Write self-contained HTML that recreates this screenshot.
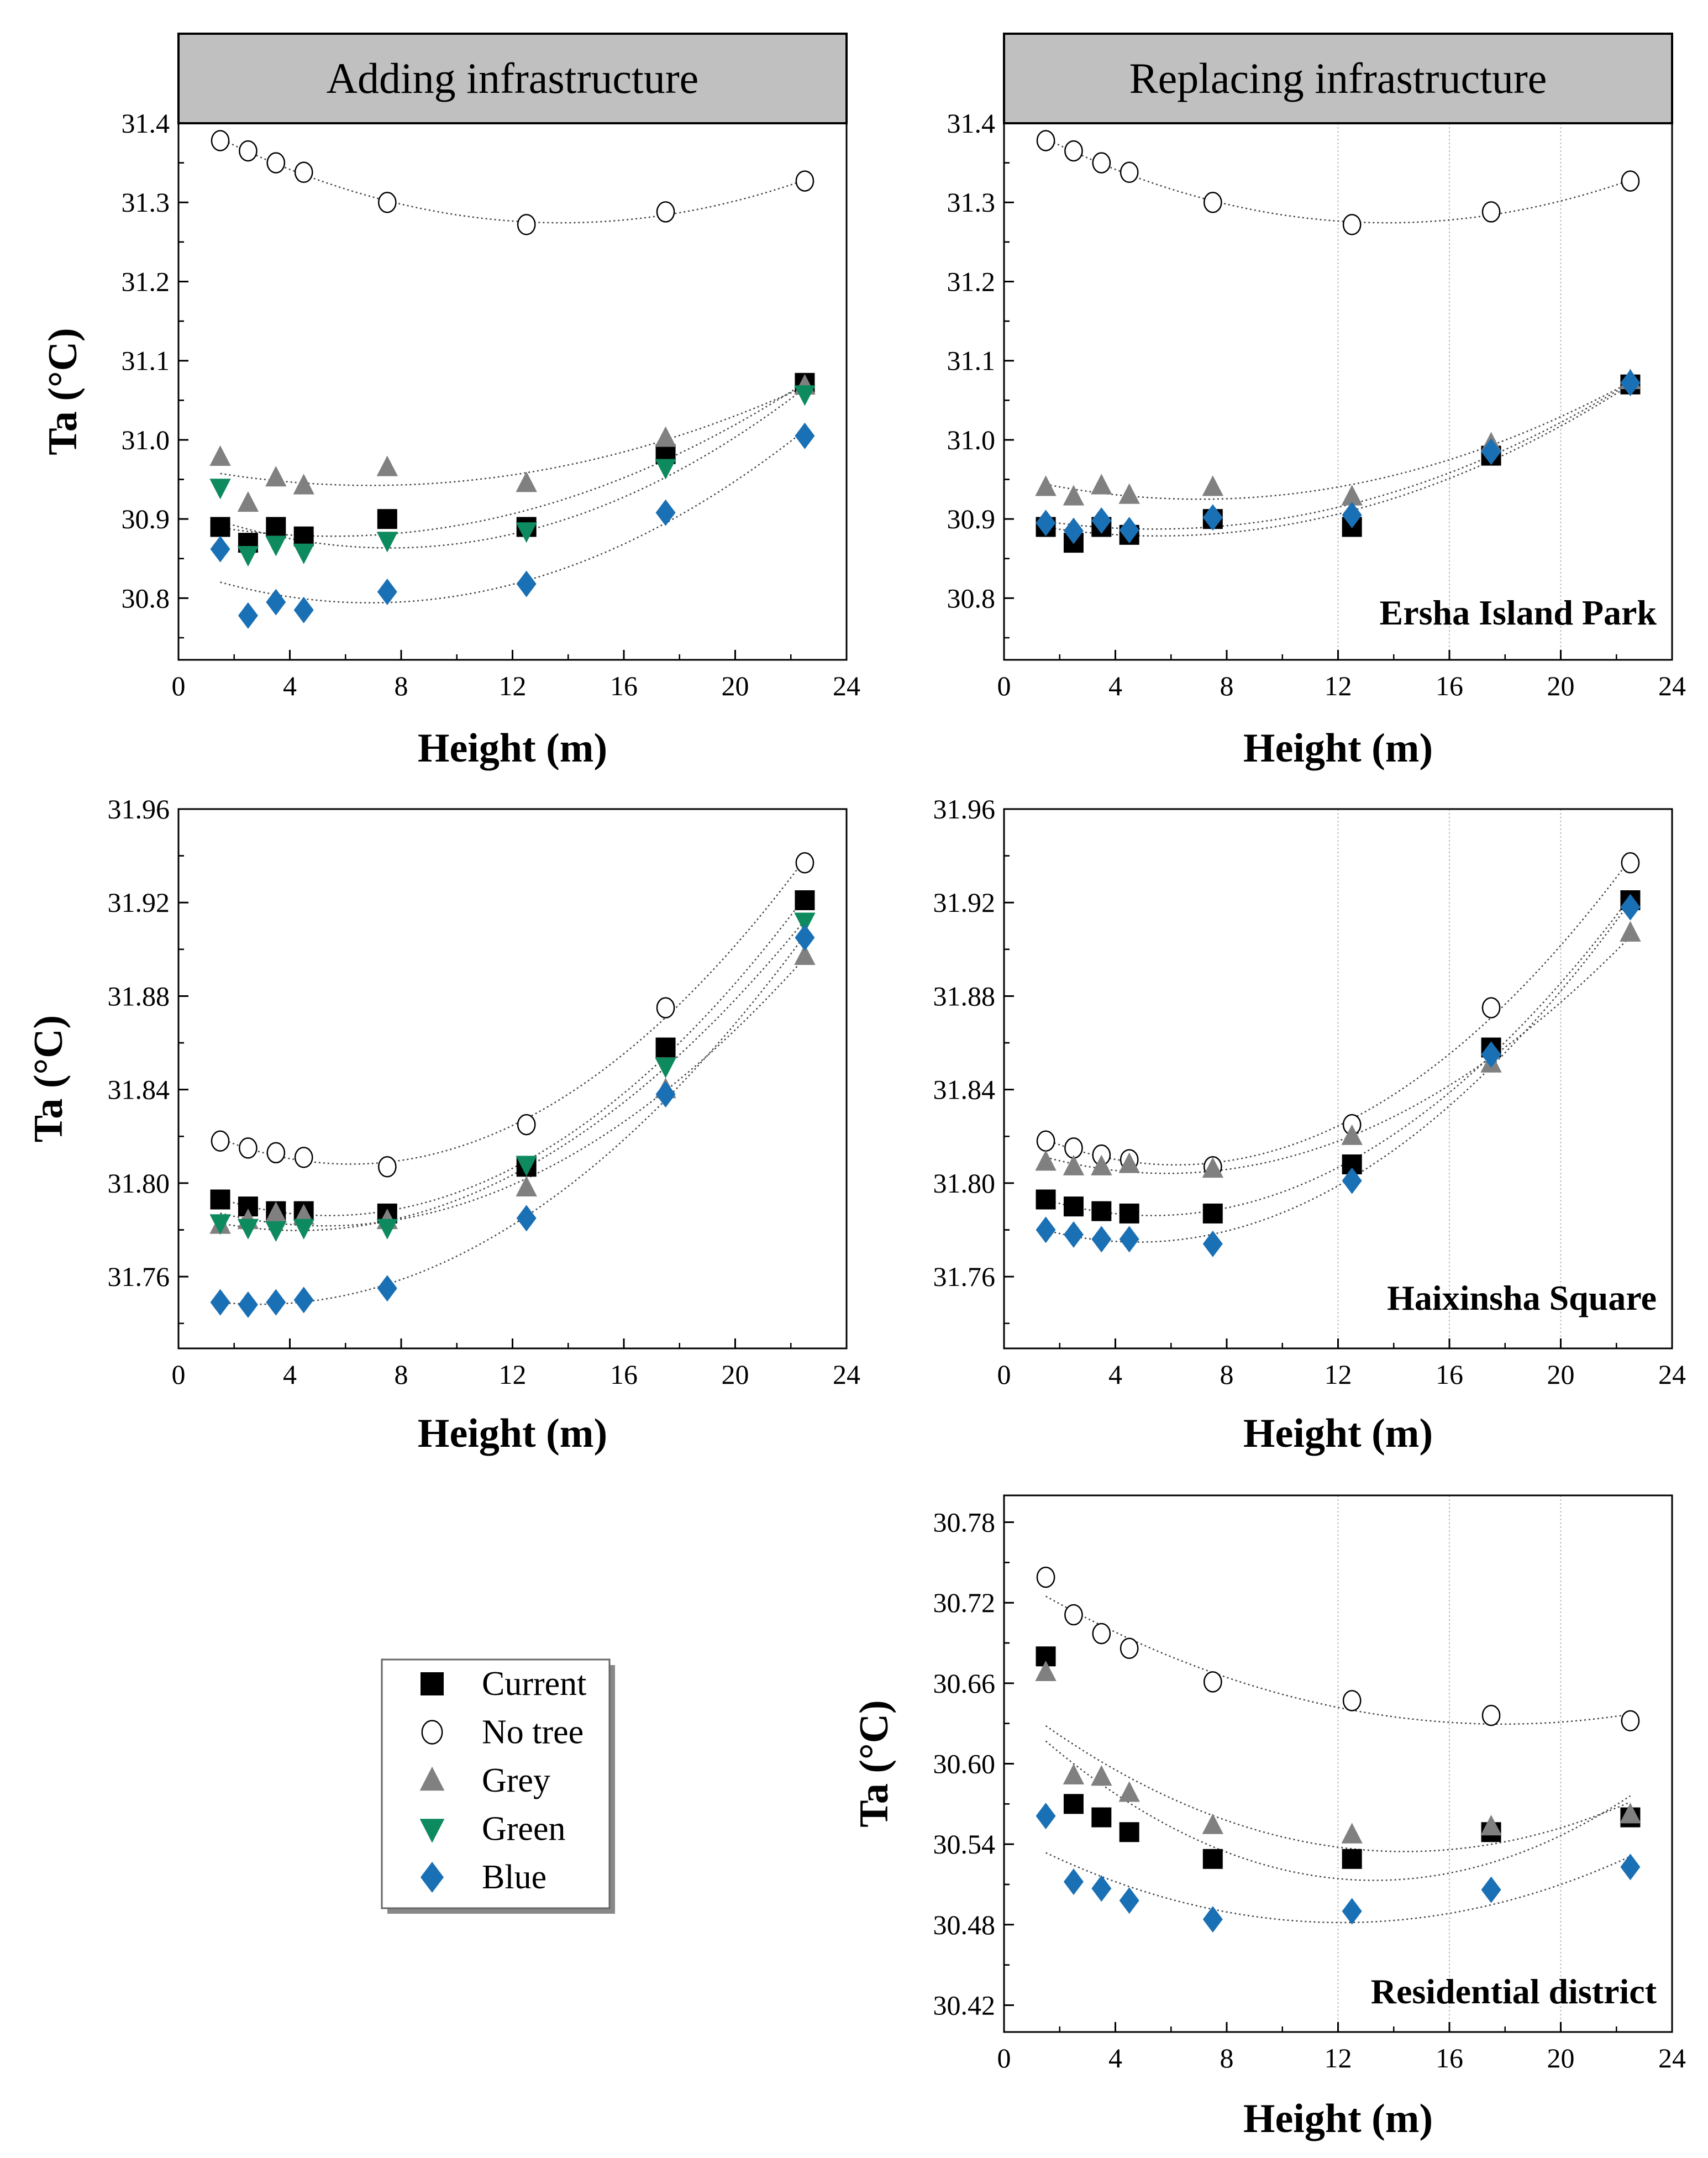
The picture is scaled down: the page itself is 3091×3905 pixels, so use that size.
<!DOCTYPE html>
<html><head><meta charset="utf-8">
<style>
html,body{margin:0;padding:0;background:#fff;}
svg{display:block;font-family:"Liberation Serif",serif;}
</style></head>
<body>
<svg id="fig" width="3091" height="3905" viewBox="0 0 3091 3905" xmlns="http://www.w3.org/2000/svg"></svg>
<script>
const heights = [1.5, 2.5, 3.5, 4.5, 7.5, 12.5, 17.5, 22.5];
const xTicks = [0, 4, 8, 12, 16, 20, 24];
// Panel 1: Ersha adding
const p1NoTree = [31.378, 31.365, 31.350, 31.338, 31.300, 31.272, 31.288, 31.327];
const p1Current = [30.890, 30.870, 30.890, 30.878, 30.900, 30.890, 30.982, 31.072];
const p1Grey = [30.978, 30.920, 30.952, 30.942, 30.965, 30.945, 31.002, 31.068];
const p1Green = [30.940, 30.855, 30.868, 30.858, 30.873, 30.885, 30.965, 31.058];
const p1Blue = [30.862, 30.778, 30.795, 30.785, 30.808, 30.818, 30.908, 31.005];
const p1Ticks = ["30.8", "30.9", "31.0", "31.1", "31.2", "31.3", "31.4"];
// Panel 2: Ersha replacing
const p2NoTree = [31.378, 31.365, 31.350, 31.338, 31.300, 31.272, 31.288, 31.327];
const p2Current = [30.890, 30.870, 30.890, 30.880, 30.900, 30.890, 30.980, 31.070];
const p2Grey = [30.940, 30.928, 30.942, 30.930, 30.940, 30.928, 30.995, 31.075];
const p2Blue = [30.895, 30.885, 30.898, 30.886, 30.902, 30.905, 30.985, 31.072];
// Panel 3: Haixinsha adding
const p3NoTree = [31.818, 31.815, 31.813, 31.811, 31.807, 31.825, 31.875, 31.937];
const p3Current = [31.793, 31.790, 31.788, 31.788, 31.787, 31.807, 31.858, 31.921];
const p3Grey = [31.782, 31.784, 31.787, 31.786, 31.784, 31.798, 31.840, 31.897];
const p3Green = [31.783, 31.781, 31.780, 31.781, 31.781, 31.808, 31.850, 31.912];
const p3Blue = [31.749, 31.748, 31.749, 31.750, 31.755, 31.785, 31.838, 31.905];
const p3Ticks = ["31.76", "31.80", "31.84", "31.88", "31.92", "31.96"];
// Panel 4: Haixinsha replacing
const p4NoTree = [31.818, 31.815, 31.812, 31.810, 31.807, 31.825, 31.875, 31.937];
const p4Current = [31.793, 31.790, 31.788, 31.787, 31.787, 31.808, 31.858, 31.921];
const p4Grey = [31.809, 31.807, 31.807, 31.808, 31.806, 31.820, 31.851, 31.907];
const p4Blue = [31.780, 31.778, 31.776, 31.776, 31.774, 31.801, 31.855, 31.918];
// Panel 5: Residential replacing
const p5NoTree = [30.739, 30.711, 30.697, 30.686, 30.661, 30.647, 30.636, 30.632];
const p5Current = [30.680, 30.570, 30.560, 30.549, 30.529, 30.529, 30.549, 30.560];
const p5Grey = [30.668, 30.591, 30.590, 30.578, 30.554, 30.547, 30.553, 30.562];
const p5Blue = [30.561, 30.512, 30.507, 30.498, 30.484, 30.490, 30.506, 30.523];
const p5Ticks = ["30.42", "30.48", "30.54", "30.60", "30.66", "30.72", "30.78"];

const NS = "http://www.w3.org/2000/svg";
const svg = document.getElementById('fig');
function mk(tag, attrs, parent) {
  const e = document.createElementNS(NS, tag);
  for (const k in attrs) e.setAttribute(k, attrs[k]);
  (parent || svg).appendChild(e);
  return e;
}
const COL = {current:'#000000', notree:'#000000', grey:'#808080', green:'#0e8a5f', blue:'#1a70b5'};

function fitQuad(xs, ys) {
  let S=[0,0,0,0,0], T=[0,0,0];
  for (let i=0;i<xs.length;i++){const x=xs[i],y=ys[i];let p=1;for(let k=0;k<5;k++){S[k]+=p;if(k<3)T[k]+=p*y;p*=x;}}
  const A=[[S[0],S[1],S[2],T[0]],[S[1],S[2],S[3],T[1]],[S[2],S[3],S[4],T[2]]];
  for(let i=0;i<3;i++){for(let j=i+1;j<3;j++){const f=A[j][i]/A[i][i];for(let k=i;k<4;k++)A[j][k]-=f*A[i][k];}}
  const c=[0,0,0];
  for(let i=2;i>=0;i--){let s=A[i][3];for(let k=i+1;k<3;k++)s-=A[i][k]*c[k];c[i]=s/A[i][i];}
  return c;
}

function marker(g, kind, cx, cy, sc) {
  const s = sc || 1.2;
  let el;
  if (kind==='current') el = mk('rect',{x:cx-15*s,y:cy-15*s,width:30*s,height:30*s,fill:COL.current},g);
  else if (kind==='notree') el = mk('ellipse',{cx:cx,cy:cy,rx:13*s,ry:15*s,fill:'#fff',stroke:'#000','stroke-width':2.5},g);
  else if (kind==='grey') el = mk('polygon',{points:`${cx},${cy-18*s} ${cx+16*s},${cy+13*s} ${cx-16*s},${cy+13*s}`,fill:COL.grey},g);
  else if (kind==='green') el = mk('polygon',{points:`${cx},${cy+18*s} ${cx+16*s},${cy-13*s} ${cx-16*s},${cy-13*s}`,fill:COL.green},g);
  else el = mk('polygon',{points:`${cx},${cy-20*s} ${cx+15*s},${cy} ${cx},${cy+20*s} ${cx-15*s},${cy}`,fill:COL.blue},g);
  return el;
}

function panel(cfg) {
  const g = mk('g',{});
  
  
  const {x0,x1,y0,y1,vmin,vmax} = cfg;
  const X = v => x0 + (v-0)/(24-0)*(x1-x0);
  const Y = v => y1 - (v-vmin)/(vmax-vmin)*(y1-y0);
  if (cfg.grid) {
    [12,16,20].forEach(v=>{
      const l = mk('line',{x1:X(v),x2:X(v),y1:y0,y2:y1,stroke:'#bbb','stroke-width':2,'stroke-dasharray':'3,4'},g);
      
      
    });
  }
  if (cfg.header) {
    const hb = mk('rect',{x:x0,y:cfg.hy,width:x1-x0,height:y0-cfg.hy,fill:'#c0c0c0',stroke:'#000','stroke-width':4},g);
    
    
    const ht = mk('text',{x:(x0+x1)/2,y:cfg.hy+(y0-cfg.hy)/2+26,'text-anchor':'middle','font-size':78},g);
    ht.textContent = cfg.header;
    
    
  }
  xTicks.forEach(v=>{
    mk('line',{x1:X(v),x2:X(v),y1:y1,y2:y1-18,stroke:'#000','stroke-width':3},g);
    if (v<24) mk('line',{x1:X(v+2),x2:X(v+2),y1:y1,y2:y1-10,stroke:'#000','stroke-width':2.5},g);
    const t = mk('text',{x:X(v),y:y1+64,'text-anchor':'middle','font-size':50},g);
    t.textContent = v;
    
    
  });
  const step = (parseFloat(cfg.ticks[1])-parseFloat(cfg.ticks[0]));
  cfg.ticks.forEach(lab=>{
    const v = parseFloat(lab);
    mk('line',{x1:x0,x2:x0+18,y1:Y(v),y2:Y(v),stroke:'#000','stroke-width':3},g);
    [v-step/2, v+step/2].forEach(m=>{ if (m>vmin && m<vmax) mk('line',{x1:x0,x2:x0+10,y1:Y(m),y2:Y(m),stroke:'#000','stroke-width':2.5},g); });
    const t = mk('text',{x:x0-16,y:Y(v)+17,'text-anchor':'end','font-size':50},g);
    t.textContent = lab;
    
    
  });
  const fr = mk('rect',{x:x0,y:y0,width:x1-x0,height:y1-y0,fill:'none',stroke:'#000','stroke-width':3},g);
  
  
  cfg.series.forEach(s=>{
    const c = fitQuad(heights, s.data);
    let d='';
    for (let i=0;i<=60;i++){const h=1.5+21*i/60;const v=c[0]+c[1]*h+c[2]*h*h;d+=(i?'L':'M')+X(h).toFixed(1)+','+Y(v).toFixed(1);}
    const p = mk('path',{d:d,fill:'none',stroke:'#444','stroke-width':2.5,'stroke-dasharray':'3,5'},g);
    
    
  });
  cfg.series.forEach(s=>{
    s.data.forEach((v,i)=>{
      const m = marker(g, s.kind, X(heights[i]), Y(v));
      
      
    });
  });
  const xt = mk('text',{x:(x0+x1)/2,y:cfg.xtY,'text-anchor':'middle','font-size':74,'font-weight':'bold'},g);
  xt.textContent = 'Height (m)';
  
  
  if (cfg.ytX !== null) {
    const yt = mk('text',{x:0,y:0,'text-anchor':'middle','font-size':74,'font-weight':'bold',transform:`translate(${cfg.ytX},${(y0+y1)/2}) rotate(-90)`},g);
    yt.textContent = 'Ta (°C)';
    
    
  }
  if (cfg.label) {
    const lt = mk('text',{x:x1-28,y:cfg.labelY,'text-anchor':'end','font-size':64,'font-weight':'bold'},g);
    lt.textContent = cfg.label;
    
    
  }
}

const LX=[323,1532], RX=[1817,3026];
panel({name:'panel-ersha-adding',x0:LX[0],x1:LX[1],y0:223,y1:1194,vmin:30.7221,vmax:31.4,ticks:p1Ticks,hy:61,header:'Adding infrastructure',xtY:1378,ytX:138,
  series:[{kind:'current',data:p1Current},{kind:'notree',data:p1NoTree},{kind:'grey',data:p1Grey},{kind:'green',data:p1Green},{kind:'blue',data:p1Blue}]});
panel({name:'panel-ersha-replacing',x0:RX[0],x1:RX[1],y0:223,y1:1194,vmin:30.7221,vmax:31.4,ticks:p1Ticks,hy:61,header:'Replacing infrastructure',xtY:1378,ytX:null,grid:true,label:'Ersha Island Park',labelY:1130,
  series:[{kind:'current',data:p2Current},{kind:'notree',data:p2NoTree},{kind:'grey',data:p2Grey},{kind:'blue',data:p2Blue}]});
panel({name:'panel-haixinsha-adding',x0:LX[0],x1:LX[1],y0:1464,y1:2440,vmin:31.7293,vmax:31.96,ticks:p3Ticks,xtY:2618,ytX:112,
  series:[{kind:'current',data:p3Current},{kind:'notree',data:p3NoTree},{kind:'grey',data:p3Grey},{kind:'green',data:p3Green},{kind:'blue',data:p3Blue}]});
panel({name:'panel-haixinsha-replacing',x0:RX[0],x1:RX[1],y0:1464,y1:2440,vmin:31.7293,vmax:31.96,ticks:p3Ticks,xtY:2618,ytX:null,grid:true,label:'Haixinsha Square',labelY:2370,
  series:[{kind:'current',data:p4Current},{kind:'notree',data:p4NoTree},{kind:'grey',data:p4Grey},{kind:'blue',data:p4Blue}]});
panel({name:'panel-residential-replacing',x0:RX[0],x1:RX[1],y0:2706,y1:3677,vmin:30.4,vmax:30.8,ticks:p5Ticks,xtY:3858,ytX:1606,grid:true,label:'Residential district',labelY:3625,
  series:[{kind:'current',data:p5Current},{kind:'notree',data:p5NoTree},{kind:'grey',data:p5Grey},{kind:'blue',data:p5Blue}]});

const lg = mk('g',{});


mk('rect',{x:701,y:3013,width:412,height:450,fill:'#888'},lg);
mk('rect',{x:691,y:3003,width:412,height:450,fill:'#fff',stroke:'#666','stroke-width':3},lg);
const legKinds = ['current','notree','grey','green','blue'];
const legLabels = ['Current','No tree','Grey','Green','Blue'];
legKinds.forEach((k,i)=>{
  const y = 3047 + i*87.5;
  const m = marker(lg, k, 782, y, 1.4);
  
  
  const t = mk('text',{x:872,y:y+20,'font-size':62},lg);
  t.textContent = legLabels[i];
  
  
});
</script>
</body></html>
